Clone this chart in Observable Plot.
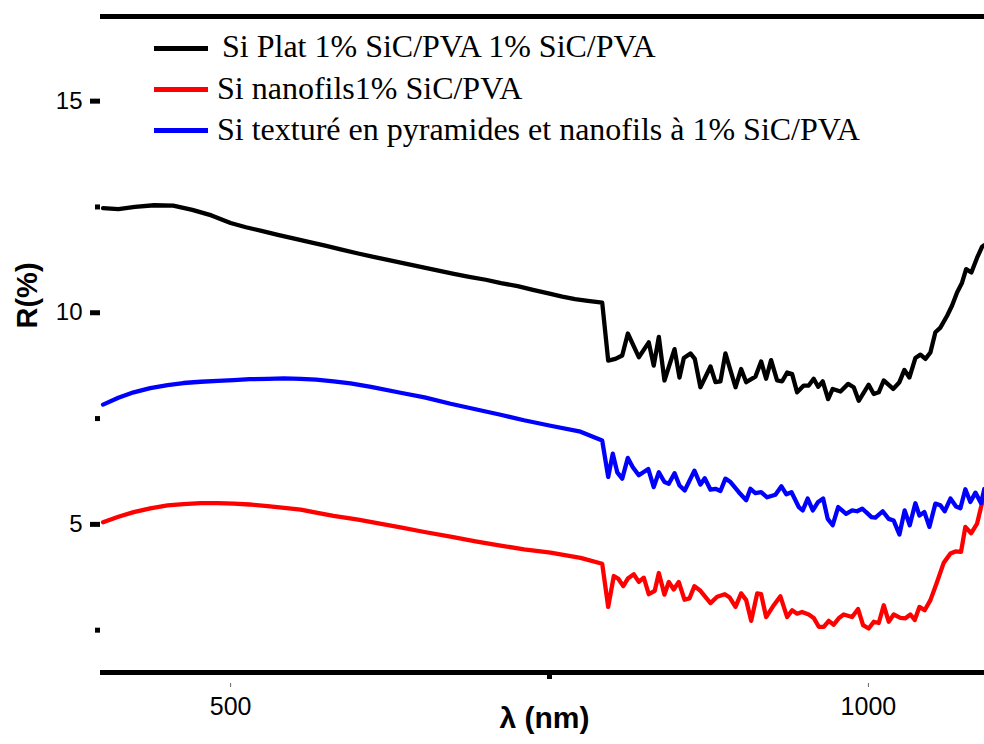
<!DOCTYPE html>
<html>
<head>
<meta charset="utf-8">
<script src="https://cdn.jsdelivr.net/npm/d3@7"></script>
<script src="https://cdn.jsdelivr.net/npm/@observablehq/plot@0.6"></script>
<style>
  body { margin: 0; background: #fff; }
  #wrap { position: relative; width: 984px; height: 744px; overflow: hidden; background: #fff; }
  #legend { position: absolute; left: 0; top: 0; width: 984px; height: 160px; pointer-events: none;
            font-family: "Liberation Serif", "Times New Roman", serif; font-size: 32px; color: #000; }
  .row { position: absolute; left: 154px; height: 32px; line-height: 32px; white-space: pre; }
  .sw { position: absolute; left: 0; width: 54px; height: 5px; }
  .lbl { position: absolute; top: 0; }
</style>
</head>
<body>
<div id="wrap"><div id="legend"></div></div>
<script>
// ---- data (wavelength nm, reflectance %) ----
const blackSeries = [
  [400,12.47],[412,12.45],[425,12.50],[440,12.54],[455,12.53],[470,12.43],[485,12.30],[500,12.12],
  [512,12.02],[525,11.93],[537,11.84],[550,11.75],[562,11.67],[575,11.58],[587,11.49],[600,11.40],
  [612,11.32],[625,11.24],[637,11.16],[650,11.08],[662,11.00],[675,10.92],[687,10.85],[700,10.78],
  [712,10.70],[725,10.63],[737,10.54],[750,10.45],[760,10.38],[770,10.32],[780,10.28],[791.3,10.24],
  [796.0,8.87],[801.7,8.91],[807.0,8.99],[811.4,9.51],[820.0,8.95],[827.8,9.30],[831.7,8.75],[835.7,9.43],
  [840.1,8.40],[848.0,9.14],[851.9,8.47],[855.3,8.93],[860.5,9.04],[863.9,8.91],[868.3,8.24],[876.2,8.73],
  [880.1,8.36],[884.0,8.38],[887.9,9.04],[895.8,8.24],[900.2,8.67],[904.2,8.36],[911.4,8.49],[915.9,8.85],
  [919.8,8.44],[923.7,8.88],[928.4,8.40],[932.4,8.38],[936.3,8.59],[940.2,8.55],[944.1,8.12],[949.3,8.28],
  [953.2,8.28],[957.1,8.44],[960.6,8.25],[964.2,8.38],[968.4,7.96],[972.0,8.20],[978.1,8.14],[984.1,8.32],
  [988.5,8.24],[992.4,7.92],[1000.2,8.30],[1004.2,8.08],[1008.1,8.12],[1012.0,8.40],[1019.4,8.20],[1024.3,8.36],
  [1028.2,8.65],[1032.1,8.47],[1036.8,8.93],[1040.8,9.01],[1044.7,8.91],[1048.6,9.06],[1052.5,9.54],[1056.4,9.65],
  [1061.7,9.93],[1065.6,10.17],[1069.5,10.48],[1073.4,10.71],[1076.6,11.03],[1080.7,10.95],[1085.2,11.30],
  [1089.1,11.56],[1091,11.60]
];
const redSeries = [
  [400,5.05],[412,5.18],[424,5.29],[437,5.38],[450.6,5.45],[463,5.48],[476.5,5.50],[490,5.50],
  [502.4,5.49],[515,5.47],[529,5.43],[542,5.39],[554.9,5.35],[567,5.28],[580.7,5.20],[600,5.11],
  [617,5.02],[633.2,4.93],[652,4.82],[672.4,4.71],[692,4.60],[711.6,4.50],[730,4.41],[750.8,4.33],
  [774.3,4.21],[791.3,4.07],
  [796.0,3.05],[800.4,3.78],[803.8,3.72],[807.8,3.54],[811.4,3.72],[816.1,3.82],[820.0,3.64],[823.9,3.74],
  [827.8,3.35],[832.5,3.43],[835.7,3.85],[840.1,3.34],[843.5,3.64],[847.4,3.46],[851.3,3.64],[855.8,3.22],
  [859.7,3.25],[863.6,3.54],[868.3,3.43],[876.2,3.14],[881.4,3.29],[887.4,3.35],[891.3,3.27],[895.8,3.05],
  [900.2,3.37],[904.2,3.21],[908.1,2.72],[912.8,3.37],[915.9,3.35],[919.8,2.81],[925.8,3.09],[931.0,3.30],
  [936.3,2.81],[940.2,2.97],[944.1,2.89],[948.0,2.93],[953.2,2.87],[957.1,2.79],[961.1,2.58],[965.0,2.58],
  [968.9,2.72],[972.8,2.63],[976.7,2.78],[980.6,2.87],[987.2,2.81],[991.9,3.00],[995.8,2.62],[1000.2,2.54],
  [1004.2,2.70],[1008.1,2.67],[1012.0,3.09],[1015.9,2.70],[1019.8,2.87],[1025.1,2.79],[1029.0,2.78],[1032.9,2.87],
  [1036.3,2.74],[1040.0,3.05],[1044.1,2.97],[1048.6,3.21],[1053.8,3.64],[1059.0,4.09],[1064.3,4.31],[1068.2,4.36],
  [1072.6,4.35],[1076.0,4.94],[1080.5,4.79],[1085.2,5.02],[1088.3,5.41],[1090.9,5.68]
];
const blueSeries = [
  [400,7.83],[412,7.99],[424,8.12],[437,8.22],[450.6,8.29],[463,8.34],[476.5,8.37],[490,8.39],
  [502.4,8.41],[515,8.43],[529,8.44],[542,8.45],[554.9,8.44],[567,8.42],[580.7,8.38],[594,8.33],
  [610,8.25],[633.2,8.11],[652,8.00],[672.4,7.85],[692,7.72],[711.6,7.59],[730,7.46],[750.8,7.33],
  [774.3,7.19],[791.3,6.98],
  [796.0,6.12],[799.6,6.67],[803.1,6.23],[807.0,6.08],[811.4,6.57],[815.3,6.35],[820.0,6.16],[827.4,6.31],
  [831.7,5.88],[835.7,6.23],[840.1,6.00],[843.5,5.96],[848.0,6.21],[851.9,5.92],[856.0,5.80],[863.6,6.27],
  [868.3,5.94],[871.7,6.09],[876.2,5.82],[880.1,5.84],[884.0,5.79],[887.9,6.08],[891.9,6.00],[898.4,5.76],
  [904.2,5.57],[907.5,5.84],[911.4,5.74],[915.9,5.76],[920.6,5.64],[927.1,5.70],[931.8,5.90],[935.7,5.71],
  [939.7,5.76],[945.4,5.41],[948.5,5.33],[952.4,5.61],[956.4,5.33],[960.6,5.53],[964.5,5.61],[968.1,5.13],
  [972.0,4.98],[976.3,5.41],[982.5,5.25],[987.2,5.33],[991.1,5.31],[995.1,5.37],[998.2,5.29],[1002.4,5.17],
  [1005.5,5.16],[1011.2,5.31],[1015.9,5.13],[1019.8,5.09],[1024.3,4.76],[1028.4,5.33],[1032.4,4.98],[1036.8,5.50],
  [1040.0,5.21],[1043.9,5.29],[1047.8,4.94],[1052.5,5.49],[1056.4,5.45],[1059.8,5.31],[1064.3,5.61],[1068.7,5.42],
  [1072.1,5.38],[1076.0,5.83],[1079.9,5.53],[1083.9,5.75],[1088.3,5.50],[1090.9,5.84]
];
const legendLabels = [
  "Si Plat 1% SiC/PVA 1% SiC/PVA",
  "Si nanofils1% SiC/PVA",
  "Si texturé en pyramides et nanofils à 1% SiC/PVA"
];
const seriesColors = ["#000000", "#ff0000", "#0000ff"];
const yMajorTicks = [5, 10, 15];
const yMinorTicks = [2.5, 7.5, 12.5];
const xLabelTicks = [500, 1000];
const xMidTicks = [750];
const xTitle = "λ (nm)";
const yTitle = "R(%)";

const plot = Plot.plot({
  width: 984,
  height: 744,
  marginLeft: 100,
  marginRight: 0,
  marginTop: 16,
  marginBottom: 72,
  x: {domain: [398, 1091]},
  y: {domain: [1.5, 17]},
  style: {
    fontFamily: "'Liberation Sans', Arial, sans-serif",
    fontSize: "24px",
    color: "#000",
    background: "transparent",
    overflow: "visible"
  },
  marks: [
    Plot.ruleY([1.5, 17], {stroke: "#000", strokeWidth: 5}),
    Plot.axisY({ticks: yMajorTicks, tickSize: 10, tickPadding: 8, strokeWidth: 5, fontSize: 24, label: null}),
    Plot.axisY({ticks: yMinorTicks, tickSize: 5, strokeWidth: 5, fill: "none", label: null}),
    Plot.axisX({ticks: xMidTicks, tickSize: 7, strokeWidth: 5, fill: "none", label: null}),
    Plot.axisX({ticks: xLabelTicks, tickSize: 4, dy: 11, stroke: "#666", strokeWidth: 1, fill: "none", label: null}),
    Plot.axisX({ticks: xLabelTicks, tickSize: 0, tickPadding: 25, fontSize: 25, tickFormat: "d", label: null}),
    Plot.line(blackSeries, {x: d => d[0], y: d => d[1], stroke: seriesColors[0], strokeWidth: 4.3, strokeLinejoin: "round"}),
    Plot.line(redSeries, {x: d => d[0], y: d => d[1], stroke: seriesColors[1], strokeWidth: 4.3, strokeLinejoin: "round"}),
    Plot.line(blueSeries, {x: d => d[0], y: d => d[1], stroke: seriesColors[2], strokeWidth: 4.3, strokeLinejoin: "round"}),
    Plot.text([yTitle], {text: d => d, frameAnchor: "left", dx: -73, dy: -16, rotate: -90, fontWeight: "bold", fontSize: 29}),
    Plot.text([xTitle], {text: d => d, frameAnchor: "bottom", dx: 2, dy: 55, fontWeight: "bold", fontSize: 30})
  ]
});
document.getElementById("wrap").insertBefore(plot, document.getElementById("legend"));

// legend (overlaid at the top of the plot frame)
const legendRows = [
  {top: 29.9, swTop: 15.9, textLeft: 68},
  {top: 71.5, swTop: 15.0, textLeft: 63},
  {top: 113.2, swTop: 15.0, textLeft: 63}
];
const legend = document.getElementById("legend");
legendLabels.forEach((label, i) => {
  const row = document.createElement("div");
  row.className = "row";
  row.style.top = legendRows[i].top + "px";
  const sw = document.createElement("span");
  sw.className = "sw";
  sw.style.top = legendRows[i].swTop + "px";
  sw.style.background = seriesColors[i];
  const t = document.createElement("span");
  t.className = "lbl";
  t.style.left = legendRows[i].textLeft + "px";
  t.textContent = label;
  row.appendChild(sw);
  row.appendChild(t);
  legend.appendChild(row);
});
</script>
</body>
</html>
